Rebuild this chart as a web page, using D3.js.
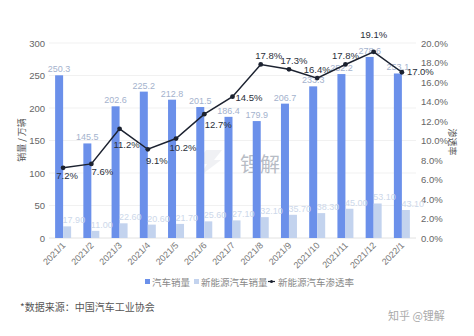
<!DOCTYPE html>
<html><head><meta charset="utf-8">
<script src="https://cdn.jsdelivr.net/npm/d3@7"></script>
<style>
html,body{margin:0;padding:0;background:#fff;}
svg{display:block;font-family:"Helvetica Neue",Arial,"Liberation Sans","Noto Sans CJK SC",sans-serif;}
</style></head>
<body><svg id="c" width="474" height="336"></svg>
<script>
const months = ["2021/1","2021/2","2021/3","2021/4","2021/5","2021/6","2021/7","2021/8","2021/9","2021/10","2021/11","2021/12","2022/1"];
const totalSales = [250.3,145.5,202.6,225.2,212.8,201.5,186.4,179.9,206.7,233.3,252.2,278.6,253.1];
const nevSales = [17.90,11.00,22.60,20.60,21.70,25.60,27.10,32.10,35.70,38.30,45.00,53.10,43.10];
const penetration = [7.2,7.6,11.2,9.1,10.2,12.7,14.5,17.8,17.3,16.4,17.8,19.1,17.0];
const leftTicks = [0,50,100,150,200,250,300];
const rightTicks = [0,2,4,6,8,10,12,14,16,18,20];
// label placement for the rate labels: [dx, dy, anchor]
const rateLabelPos = [[4,11,"middle"],[11,11.5,"middle"],[7,19,"middle"],[9,15,"middle"],[7,12.5,"middle"],[14,13.5,"middle"],[3,4,"start"],[8,-5,"middle"],[5,-5,"middle"],[0,-5,"middle"],[0,-5,"middle"],[0,-14,"middle"],[5,3,"start"]];

const svg = d3.select("#c");
const L = 49, R = 416, T = 43, B = 238;
const x = d3.scaleBand().domain(months).range([L,R]).paddingInner(0).paddingOuter(0);
const yL = d3.scaleLinear().domain([0,300]).range([B,T]);
const yR = d3.scaleLinear().domain([0,20]).range([B,T]);
const bw = 8;
const cx = m => x(m) + x.bandwidth()/2;

// grid
svg.append("g").selectAll("line").data(leftTicks).join("line")
  .attr("x1",L).attr("x2",R).attr("y1",d=>yL(d)).attr("y2",d=>yL(d))
  .attr("stroke",d=>d===0?"#e2e2e2":"#f1f1f1").attr("stroke-width",1);

// left axis
const axL = d3.axisLeft(yL).tickValues(leftTicks).tickSize(0).tickPadding(0);
const gL = svg.append("g").attr("transform",`translate(45,0)`).call(axL);
gL.select(".domain").remove();
gL.selectAll("text").attr("font-size",9.5).attr("fill","#666").attr("font-family","Helvetica Neue,Arial,Liberation Sans,sans-serif");

// right axis
const axR = d3.axisRight(yR).tickValues(rightTicks).tickSize(0).tickPadding(0).tickFormat(d=>d.toFixed(1)+"%");
const gR = svg.append("g").attr("transform",`translate(421,0)`).call(axR);
gR.select(".domain").remove();
gR.selectAll("text").attr("font-size",9.5).attr("fill","#666").attr("font-family","Helvetica Neue,Arial,Liberation Sans,sans-serif");

// axis titles
svg.append("text").attr("transform","translate(25,140) rotate(-90)").attr("text-anchor","middle")
  .attr("font-size",9).attr("fill","#555").attr("font-family","Noto Sans CJK SC").text("销量 / 万辆");
svg.append("text").attr("transform","translate(449,142) rotate(90)").attr("text-anchor","middle")
  .attr("font-size",9).attr("fill","#555").attr("font-family","Noto Sans CJK SC").text("渗透率");

// watermark
const wm = svg.append("g").attr("opacity",0.55);
wm.append("path").attr("d","M206,150 L222,150 L214,160 L221,160 L200,176 L207,164 L197,164 Z").attr("fill","#e4e7ec");
wm.append("text").attr("x",240).attr("y",172).attr("font-size",20).attr("fill","#7d8796")
  .attr("font-family","Noto Sans CJK SC").text("锂解");

// bars
svg.append("g").selectAll("rect").data(months).join("rect")
  .attr("x",(d)=>cx(d)-bw).attr("width",bw)
  .attr("y",(d,i)=>yL(totalSales[i])).attr("height",(d,i)=>B-yL(totalSales[i]))
  .attr("fill","#6b90ea");
svg.append("g").selectAll("rect").data(months).join("rect")
  .attr("x",(d)=>cx(d)).attr("width",bw)
  .attr("y",(d,i)=>yL(nevSales[i])).attr("height",(d,i)=>B-yL(nevSales[i]))
  .attr("fill","#c3d3ee");

// bar labels
svg.append("g").selectAll("text").data(months).join("text")
  .attr("x",d=>cx(d)-bw/2).attr("y",(d,i)=>yL(totalSales[i])-3)
  .attr("text-anchor","middle").attr("font-size",9).attr("fill","#a4b2cd")
  .text((d,i)=>totalSales[i].toFixed(1));
svg.append("g").selectAll("text").data(months).join("text")
  .attr("x",d=>cx(d)-0.5).attr("y",(d,i)=>yL(nevSales[i])-3)
  .attr("text-anchor","start").attr("font-size",9).attr("fill","#cdd8ea")
  .text((d,i)=>nevSales[i].toFixed(2));

// line
const line = d3.line().x((d,i)=>cx(months[i])).y(d=>yR(d));
svg.append("path").datum(penetration).attr("d",line).attr("fill","none").attr("stroke","#1c2230").attr("stroke-width",1.5);
svg.append("g").selectAll("circle").data(penetration).join("circle")
  .attr("cx",(d,i)=>cx(months[i])).attr("cy",d=>yR(d)).attr("r",2.4).attr("fill","#1c2230");
svg.append("g").selectAll("text").data(penetration).join("text")
  .attr("x",(d,i)=>cx(months[i])+rateLabelPos[i][0]).attr("y",(d,i)=>yR(d)+rateLabelPos[i][1])
  .attr("text-anchor",(d,i)=>rateLabelPos[i][2]).attr("font-size",9.5).attr("fill","#2a2f3a")
  .text(d=>d.toFixed(1)+"%");

// x labels
svg.append("g").selectAll("text").data(months).join("text")
  .attr("transform",d=>`translate(${cx(d)+3},${246}) rotate(-45)`)
  .attr("text-anchor","end").attr("font-size",9).attr("fill","#777").text(d=>d);

// legend
const lg = svg.append("g").attr("font-size",9.5).attr("fill","#888").attr("font-family","Noto Sans CJK SC");
lg.append("rect").attr("x",145).attr("y",279).attr("width",5).attr("height",5).attr("fill","#6b90ea");
lg.append("text").attr("x",152).attr("y",285.5).text("汽车销量");
lg.append("rect").attr("x",194).attr("y",279).attr("width",5).attr("height",5).attr("fill","#c3d3ee");
lg.append("text").attr("x",201).attr("y",285.5).text("新能源汽车销量");
lg.append("line").attr("x1",268).attr("x2",275).attr("y1",281.5).attr("y2",281.5).attr("stroke","#1c2230").attr("stroke-width",1.2);
lg.append("circle").attr("cx",271.5).attr("cy",281.5).attr("r",1.5).attr("fill","#1c2230");
lg.append("text").attr("x",278).attr("y",285.5).text("新能源汽车渗透率");

// footer
svg.append("text").attr("x",20).attr("y",311).attr("font-size",10).attr("fill","#555")
  .attr("font-family","Noto Sans CJK SC").text("*数据来源：中国汽车工业协会");
svg.append("text").attr("x",388).attr("y",320).attr("font-size",11).attr("fill","#aaa")
  .attr("font-family","Noto Sans CJK SC").text("知乎 @锂解");
</script></body></html>
